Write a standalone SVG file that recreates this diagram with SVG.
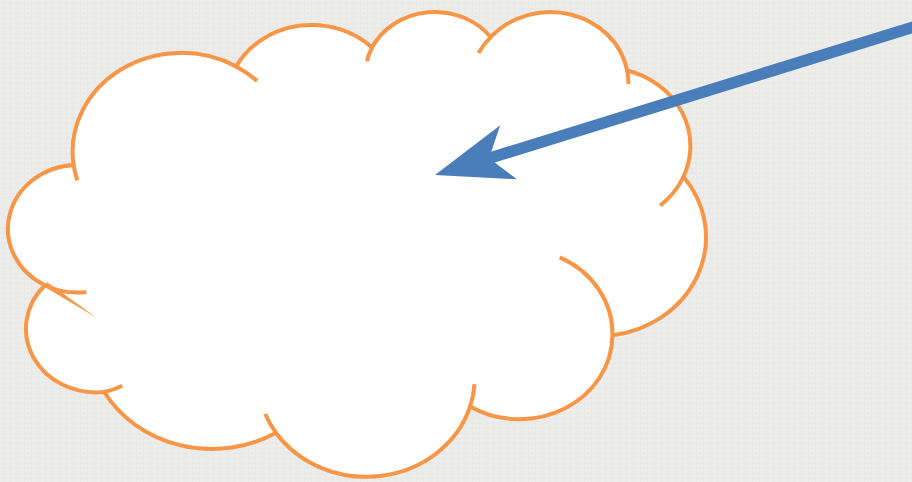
<svg xmlns="http://www.w3.org/2000/svg" width="912" height="482" viewBox="0 0 912 482">
  <style>
    .bg { fill: #ebebea; }
    .cloud-body { fill: #ffffff; stroke: #f79646; stroke-width: 4; stroke-linejoin: miter; }
    .cloud-inner { fill: none; stroke: #f79646; stroke-width: 4; }
    .sliver { fill: #f79646; }
    .arrow-shaft { stroke: #4a7ebb; stroke-width: 11.5; fill: none; }
    .arrow-head { fill: #4a7ebb; }
  </style>
  <defs>
    <pattern id="tex" width="7" height="5" patternUnits="userSpaceOnUse">
      <rect width="7" height="5" fill="#ebebea"/>
      <rect x="0" y="0" width="7" height="1" fill="#efefee"/>
      <rect x="3" y="0" width="1" height="5" fill="#e7e7e6"/>
      <rect x="0" y="3" width="7" height="1" fill="#e8e8e7"/>
    </pattern>
  </defs>
  <rect id="background" class="bg" width="912" height="482"/>
  <rect width="912" height="482" fill="url(#tex)" opacity="0.8"/>

  <g id="cloud">
    <path class="cloud-body" d="M 73.60 165.04
      A 108.61 98.84 0 0 1 236.13 66.43
      A 85.77 78.16 0 0 1 372.04 47.40
      A 70.20 63.94 0 0 1 490.69 37.17
      A 78.12 70.93 0 0 1 627.15 70.46
      A 85.77 78.22 0 0 1 683.45 176.76
      A 108.96 99.16 0 0 1 612.46 335.32
      A 93.04 84.61 0 0 1 470.15 406.42
      A 108.59 99.11 0 0 1 275.94 432.78
      A 124.16 113.39 0 0 1 104.24 391.97
      A 70.12 63.65 0 0 1 44.87 285.26
      A 69.88 63.94 0 0 1 73.60 165.04 Z"/>
    <path class="cloud-inner" d="M 86.36 292.02 A 69.88 63.94 0 0 1 44.87 285.26
      M 122.30 385.83 A 70.12 63.65 0 0 1 104.24 391.97
      M 275.94 432.78 A 108.59 99.11 0 0 1 265.20 414.06
      M 474.51 384.24 A 108.59 99.11 0 0 1 470.15 406.42
      M 559.78 257.36 A 93.04 84.61 0 0 1 612.46 335.32
      M 683.45 176.76 A 85.77 78.22 0 0 1 660.16 205.54
      M 627.15 70.46 A 78.12 70.93 0 0 1 628.38 84.05
      M 478.54 52.99 A 78.12 70.93 0 0 1 490.69 37.17
      M 366.97 61.25 A 70.20 63.94 0 0 1 372.04 47.40
      M 236.13 66.43 A 108.61 98.84 0 0 1 257.03 80.94
      M 77.26 180.30 A 108.61 98.84 0 0 1 73.60 165.04"/>
    <polygon class="sliver" points="47,282 44,286.5 97,318"/>
  </g>

  <g id="connectors">
    <line class="arrow-shaft" x1="930" y1="21.9" x2="469.96" y2="164.19"/>
    <polygon class="arrow-head" points="435,175 500.2,125.2 489.1,158.3 516.9,179.3"/>
  </g>
</svg>
